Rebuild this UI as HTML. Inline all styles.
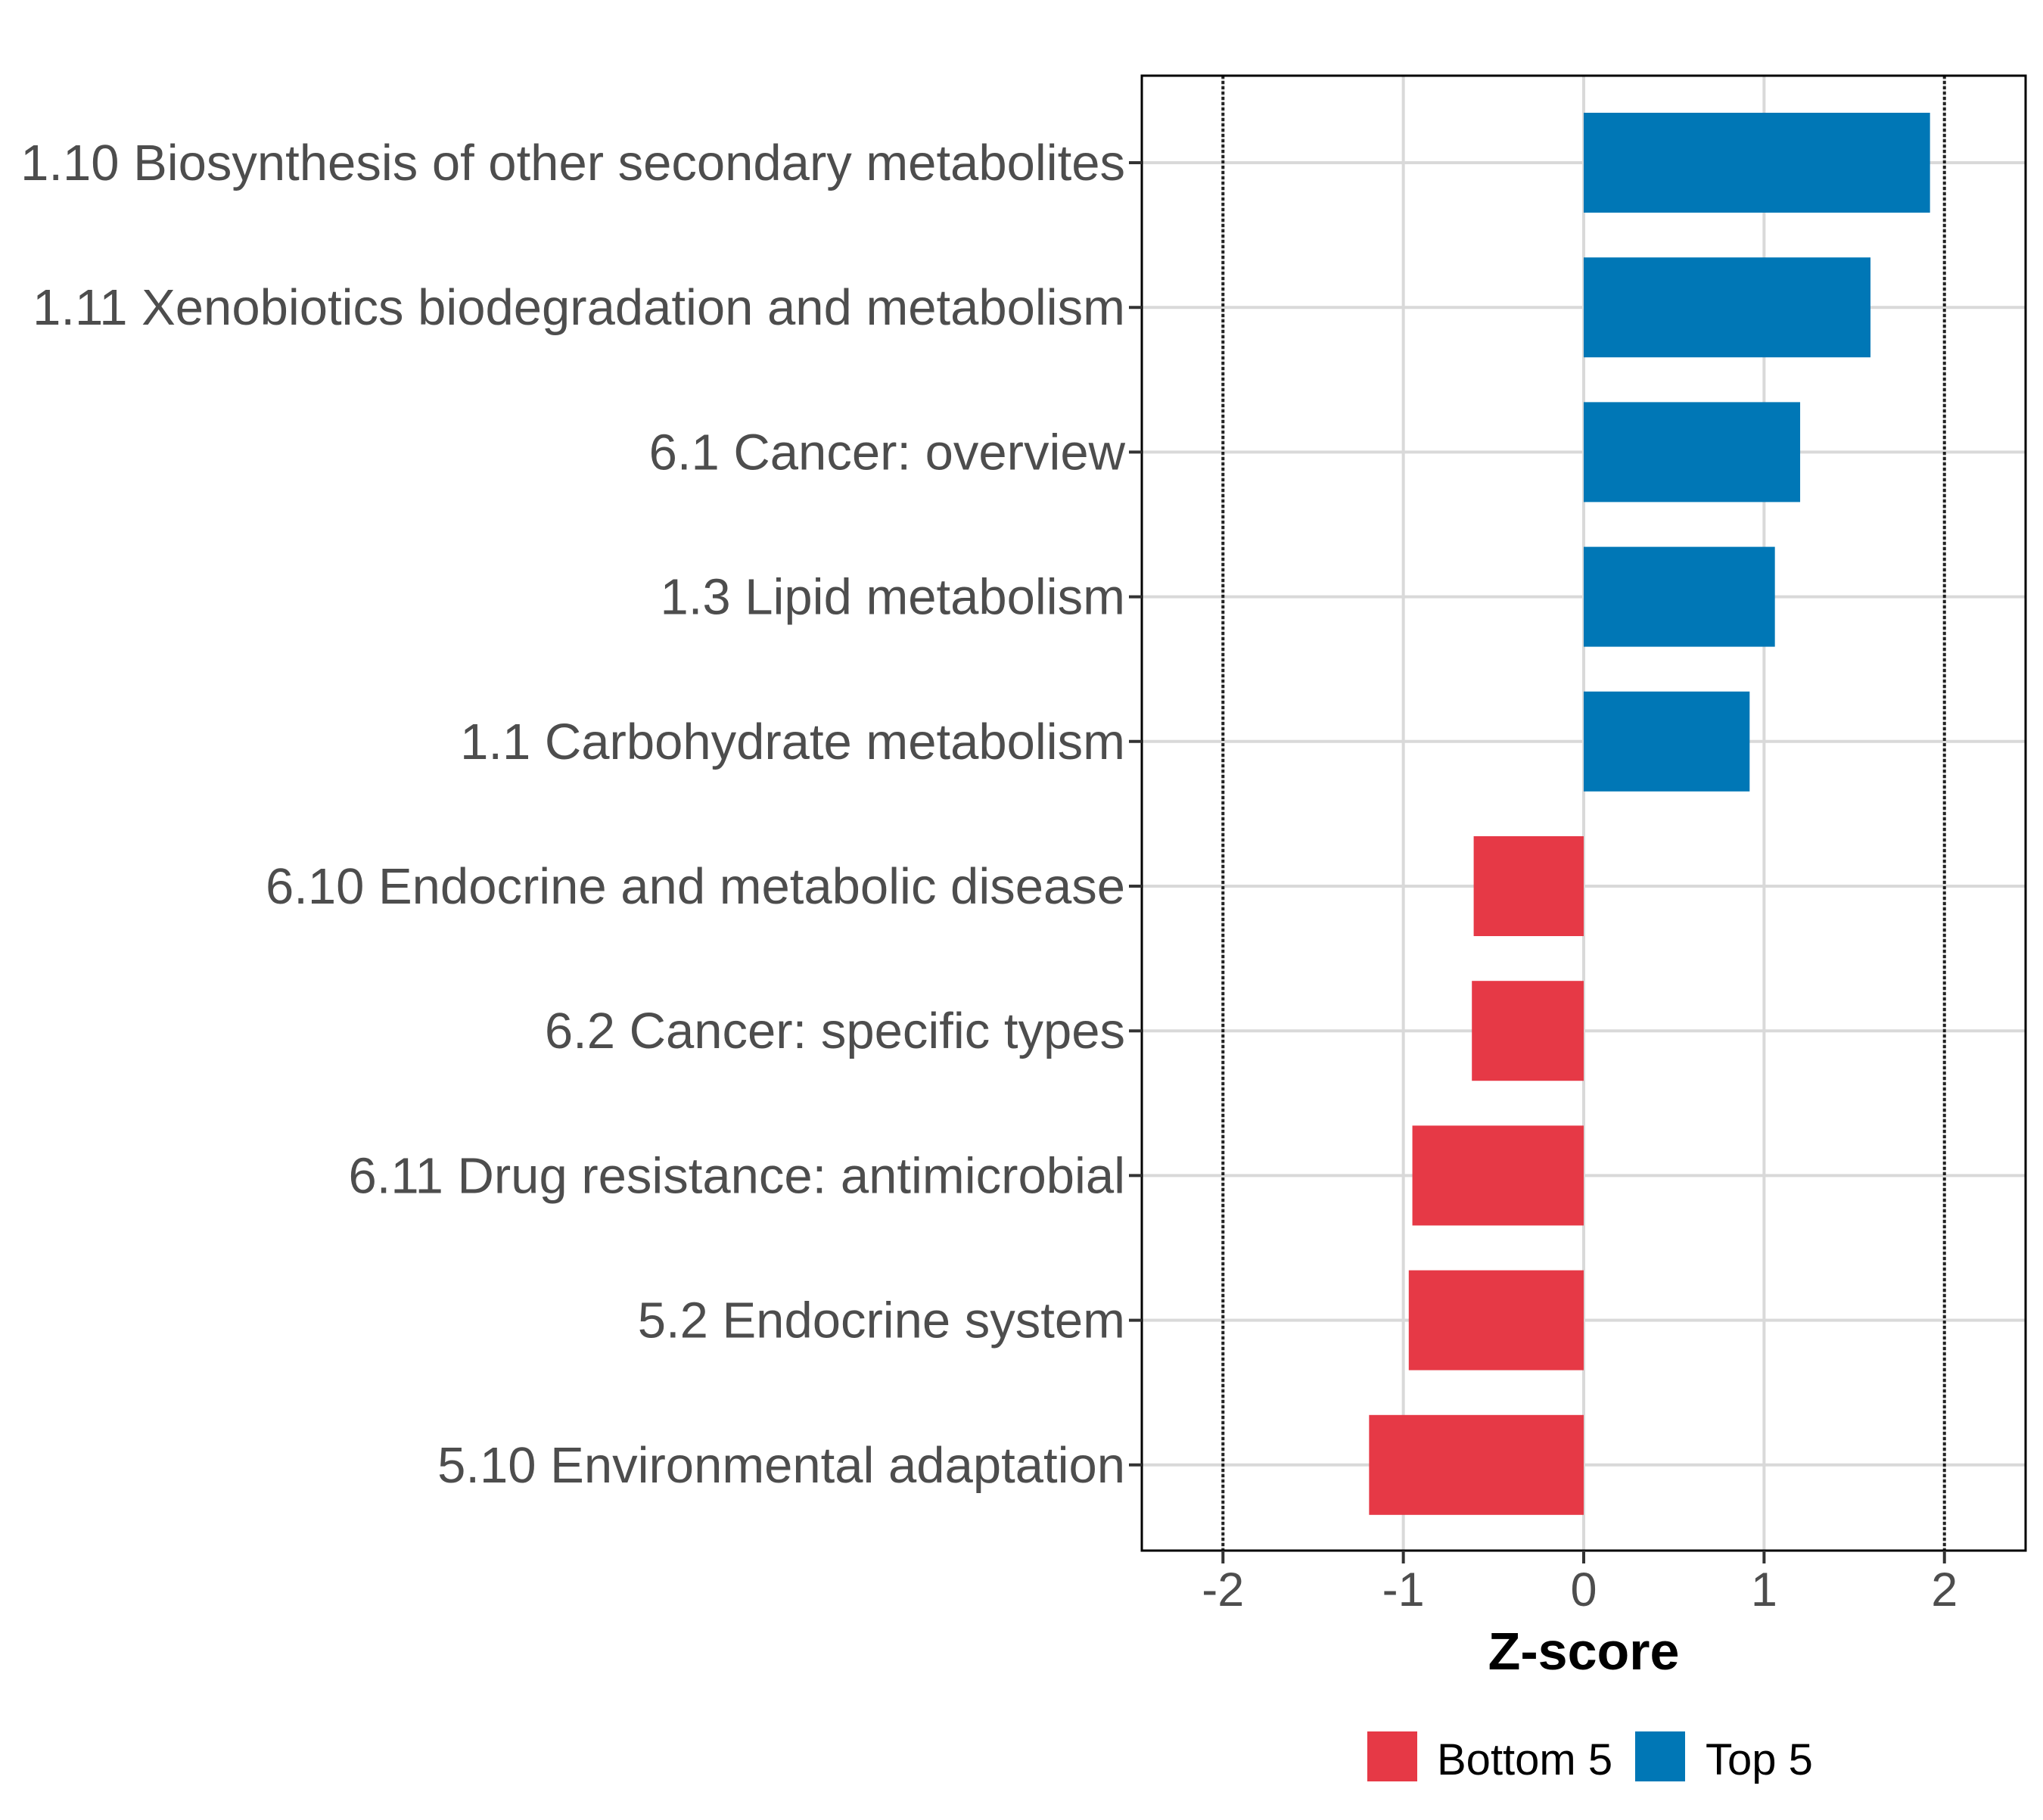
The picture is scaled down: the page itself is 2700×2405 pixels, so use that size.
<!DOCTYPE html>
<html><head><meta charset="utf-8"><style>
html,body{margin:0;padding:0;background:#fff}
svg text{font-family:"Liberation Sans",sans-serif}
</style></head><body>
<svg id="chart" width="2700" height="2400" xmlns="http://www.w3.org/2000/svg"></svg>
<script>
const categories=["1.10 Biosynthesis of other secondary metabolites","1.11 Xenobiotics biodegradation and metabolism","6.1 Cancer: overview","1.3 Lipid metabolism","1.1 Carbohydrate metabolism","6.10 Endocrine and metabolic disease","6.2 Cancer: specific types","6.11 Drug resistance: antimicrobial","5.2 Endocrine system","5.10 Environmental adaptation"];
const values=[1.92,1.59,1.20,1.06,0.92,-0.61,-0.62,-0.95,-0.97,-1.19];
const groups=["Top 5","Top 5","Top 5","Top 5","Top 5","Bottom 5","Bottom 5","Bottom 5","Bottom 5","Bottom 5"];
const xTicks=[-2,-1,0,1,2];
const xTickLabels=["-2","-1","0","1","2"];
const refLines=[-2,2];

const svg=document.getElementById('chart');
const NS="http://www.w3.org/2000/svg";
const L=1509,R=2677,T=100,B=2049;
const xMin=-2.45,xMax=2.45;
const x=v=>L+(v-xMin)/(xMax-xMin)*(R-L);
const y0=215,step=191.2;
const y=i=>y0+i*step;
const bh=132;
const colors={"Top 5":"#0077b6","Bottom 5":"#e63946"};
function mk(tag,attrs,name,text){const e=document.createElementNS(NS,tag);for(const k in attrs)e.setAttribute(k,attrs[k]);


if(text!==undefined)e.textContent=text;svg.appendChild(e);return e;}
xTicks.forEach((t,i)=>mk('line',{x1:x(t),x2:x(t),y1:T,y2:B,stroke:'#d9d9d9','stroke-width':4},'x-gridline'));
categories.forEach((c,i)=>mk('line',{x1:L,x2:R,y1:y(i),y2:y(i),stroke:'#d9d9d9','stroke-width':4},'y-gridline'));
values.forEach((v,i)=>{const a=x(0),b=x(v);mk('rect',{x:Math.min(a,b),y:y(i)-bh/2,width:Math.abs(b-a),height:bh,fill:colors[groups[i]]},'bar-'+(i+1));});
refLines.forEach(r=>mk('line',{x1:x(r),x2:x(r),y1:T,y2:B,stroke:'#222','stroke-width':4,'stroke-dasharray':'4,3'},'reference-line'));
mk('rect',{x:L,y:T,width:R-L,height:B-T,fill:'none',stroke:'#000','stroke-width':3},'plot-border');
categories.forEach((c,i)=>{mk('line',{x1:L-17,x2:L,y1:y(i),y2:y(i),stroke:'#333','stroke-width':4},'y-tick');
mk('text',{x:1487,y:y(i)+23,'text-anchor':'end','font-size':67,fill:'#4d4d4d'},'y-label',c);});
xTicks.forEach((t,i)=>{mk('line',{x1:x(t),x2:x(t),y1:B,y2:B+17,stroke:'#333','stroke-width':4},'x-tick');
mk('text',{x:x(t),y:2122,'text-anchor':'middle','font-size':63,fill:'#4d4d4d'},'x-tick-label',xTickLabels[i]);});
mk('text',{x:x(0),y:2206,'text-anchor':'middle','font-size':70,'font-weight':'bold',fill:'#000'},'x-axis-title','Z-score');
mk('rect',{x:1807,y:2288,width:66,height:66,fill:colors["Bottom 5"]},'legend-swatch-bottom');
mk('text',{x:1899,y:2345,'font-size':58,fill:'#000'},'legend-label-bottom','Bottom 5');
mk('rect',{x:2161,y:2288,width:66,height:66,fill:colors["Top 5"]},'legend-swatch-top');
mk('text',{x:2254,y:2345,'font-size':58,fill:'#000'},'legend-label-top','Top 5');
</script>
</body></html>
